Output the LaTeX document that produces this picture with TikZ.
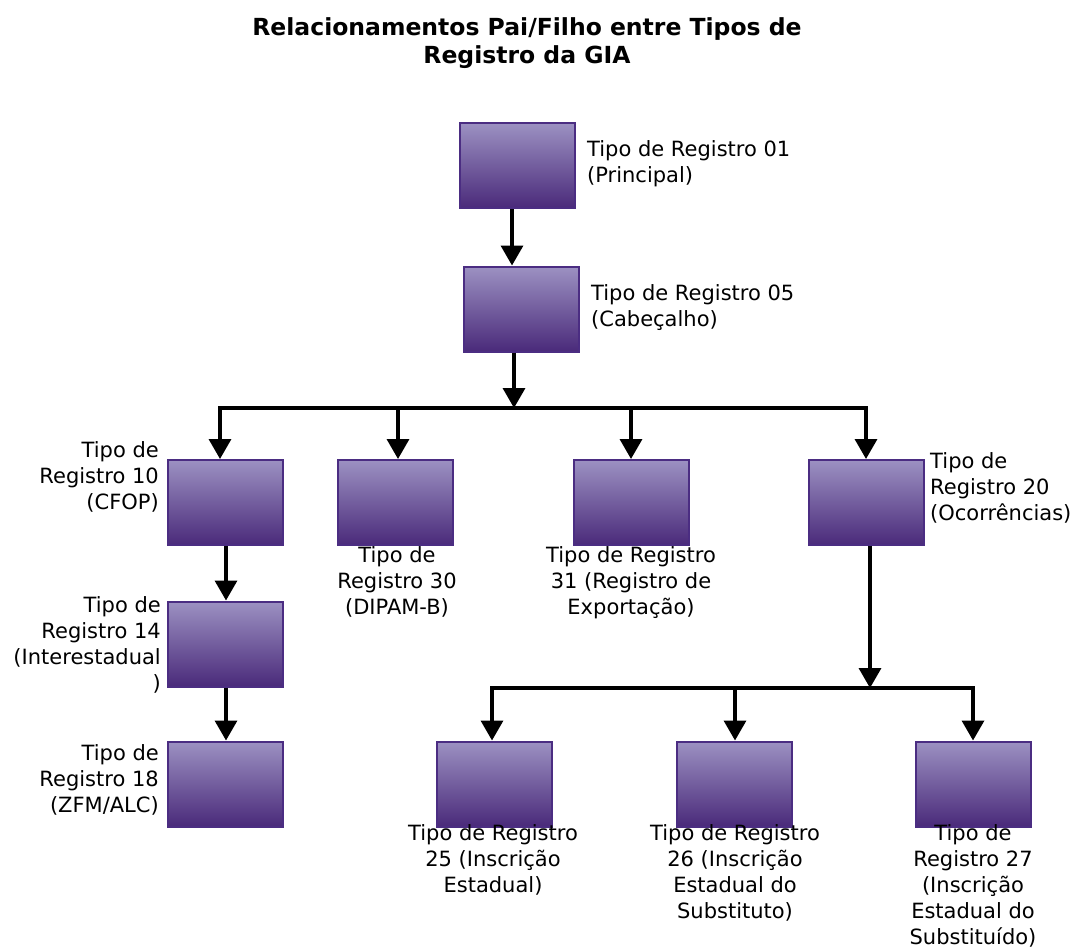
\documentclass[tikz,border=0pt]{standalone}
\usepackage{fontspec}
\setmainfont{DejaVu Sans}
\usetikzlibrary{arrows.meta}
\definecolor{boxtop}{HTML}{9C91C2}
\definecolor{boxbot}{HTML}{4A2A7A}
\definecolor{boxline}{HTML}{4B2D82}
\tikzset{
  box/.style={draw=boxline, line width=2pt, top color=boxtop, bottom color=boxbot,
    minimum width=115pt, minimum height=85pt, inner sep=0pt},
  lbl/.style={font=\fontsize{21}{26}\selectfont, inner sep=0pt},
  ttl/.style={font=\fontsize{23.5}{28}\selectfont\bfseries, inner sep=0pt, align=center},
  conn/.style={line width=3.5pt, line cap=rect},
  arr/.style={line width=3.5pt, -{Triangle[width=22pt,length=20pt]}},
}
\begin{document}
\begin{tikzpicture}[x=1pt,y=-1pt]
\useasboundingbox (0,0) rectangle (1078,950);
% title
\node[ttl] (title) at (527,43) {Relacionamentos Pai/Filho entre Tipos de\\Registro da GIA};
% boxes
\node[box] (b01) at (517.5,165.5) {};
\node[box] (b05) at (521,309) {};
\node[box] (b10) at (225,502.5) {};
\node[box] (b30) at (395,502.5) {};
\node[box] (b31) at (631,502.5) {};
\node[box] (b20) at (866,502.5) {};
\node[box] (b14) at (225,644) {};
\node[box] (b18) at (225,784) {};
\node[box] (b25) at (494,784) {};
\node[box] (b26) at (734,784) {};
\node[box] (b27) at (973.5,784) {};
% labels
\node[lbl, anchor=west, align=left] (l01) at (587,164) {Tipo de Registro 01\\(Principal)};
\node[lbl, anchor=west, align=left] (l05) at (591,308) {Tipo de Registro 05\\(Cabeçalho)};
\node[lbl, anchor=east, align=right] (l10) at (159,477) {Tipo de\\Registro 10\\(CFOP)};
\node[lbl, anchor=north, align=center] (l30) at (397,546) {Tipo de\\Registro 30\\(DIPAM-B)};
\node[lbl, anchor=north, align=center] (l31) at (631,546) {Tipo de Registro\\31 (Registro de\\Exportação)};
\node[lbl, anchor=west, align=left] (l20) at (930,488) {Tipo de\\Registro 20\\(Ocorrências)};
\node[lbl, anchor=east, align=right] (l14) at (161,645) {Tipo de\\Registro 14\\(Interestadual\\)};
\node[lbl, anchor=east, align=right] (l18) at (159,780) {Tipo de\\Registro 18\\(ZFM/ALC)};
\node[lbl, anchor=north, align=center] (l25) at (493,824) {Tipo de Registro\\25 (Inscrição\\Estadual)};
\node[lbl, anchor=north, align=center] (l26) at (735,824) {Tipo de Registro\\26 (Inscrição\\Estadual do\\Substituto)};
\node[lbl, anchor=north, align=center] (l27) at (973,824) {Tipo de\\Registro 27\\(Inscrição\\Estadual do\\Substituído)};
% junction coordinates
\coordinate (j1) at (514,408);
\coordinate (j1a) at (220,408);
\coordinate (j1b) at (398,408);
\coordinate (j1c) at (631,408);
\coordinate (j1d) at (866,408);
\coordinate (j2) at (870,688);
\coordinate (j2a) at (492,688);
\coordinate (j2b) at (735,688);
\coordinate (j2c) at (973,688);
% connectors
\draw[arr] (b01.south -| 512,0) -- (b05.north -| 512,0);
\draw[arr] (b05.south -| j1) -- (j1);
\draw[conn] (j1a) -- (j1d);
\draw[arr] (j1a) -- (b10.north -| j1a);
\draw[arr] (j1b) -- (b30.north -| j1b);
\draw[arr] (j1c) -- (b31.north -| j1c);
\draw[arr] (j1d) -- (b20.north -| j1d);
\draw[arr] (b10.south -| 226,0) -- (b14.north -| 226,0);
\draw[arr] (b14.south -| 226,0) -- (b18.north -| 226,0);
\draw[arr] (b20.south -| j2) -- (j2);
\draw[conn] (j2a) -- (j2c);
\draw[arr] (j2a) -- (b25.north -| j2a);
\draw[arr] (j2b) -- (b26.north -| j2b);
\draw[arr] (j2c) -- (b27.north -| j2c);
\end{tikzpicture}
\end{document}
